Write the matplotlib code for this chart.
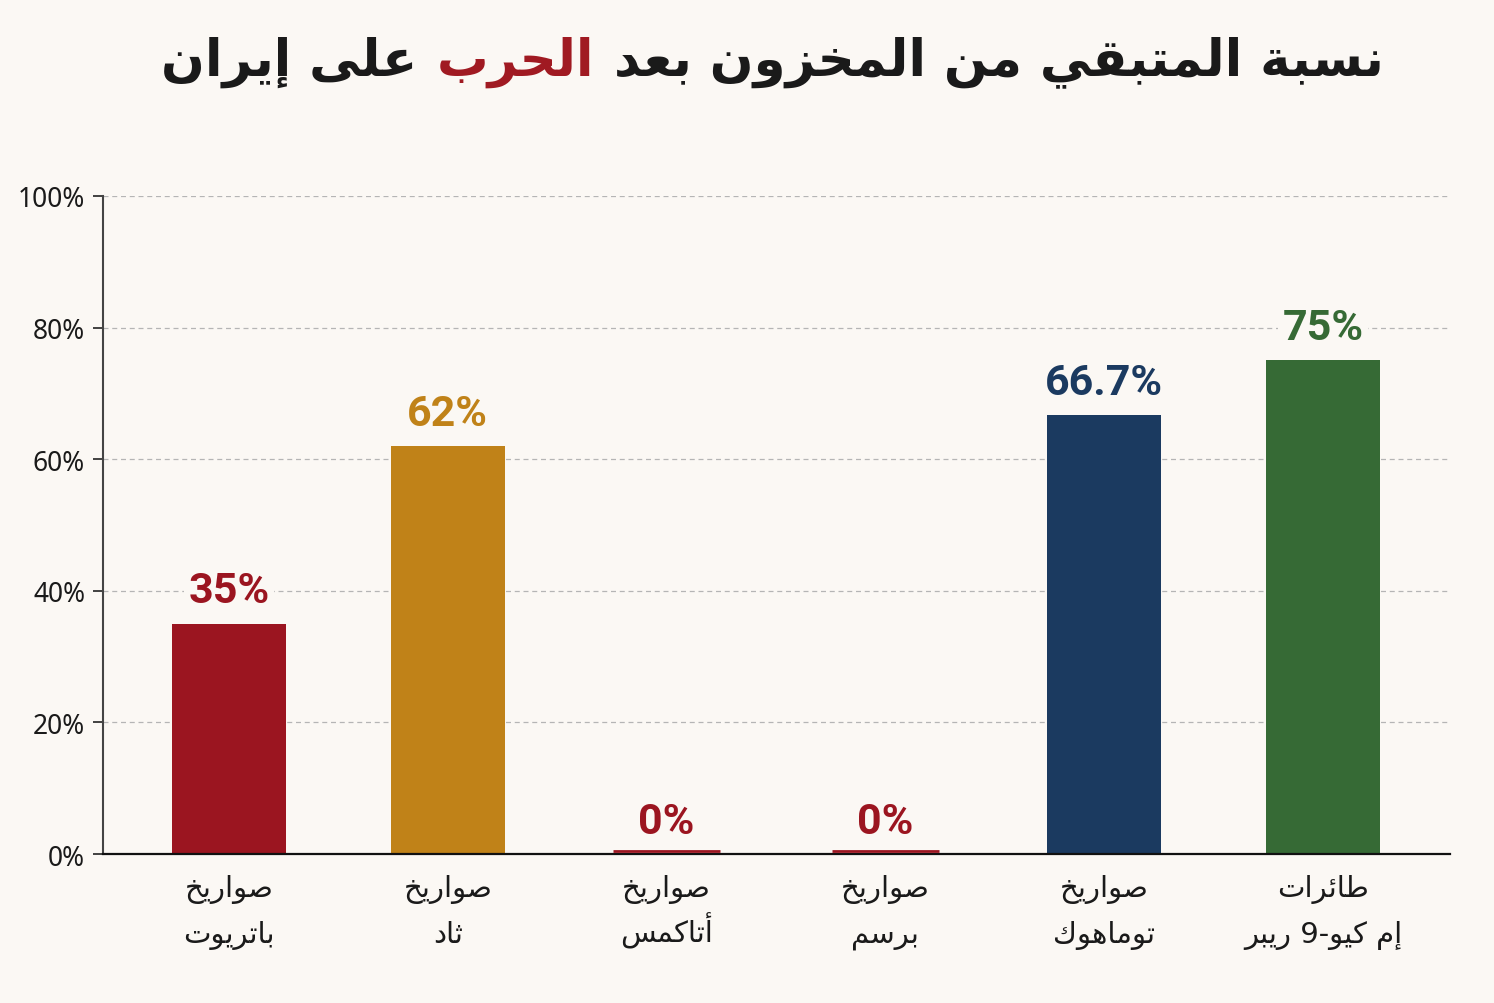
#!/usr/bin/env python3
# -*- coding: utf-8 -*-
"""Remaining stock after the war on Iran - bar chart."""

import matplotlib.pyplot as plt
from matplotlib.offsetbox import TextArea, HPacker, AnchoredOffsetbox
from matplotlib.ticker import MultipleLocator, FuncFormatter
from matplotlib.transforms import ScaledTranslation

# %% ============================== Data ======================================
categories = ['صواريخ\nباتريوت', 'صواريخ\nثاد', 'صواريخ\nأتاكمس',
              'صواريخ\nبرسم', 'صواريخ\nتوماهوك', 'طائرات\nإم كيو-9 ريبر']
values = [35, 62, 0, 0, 66.7, 75]
value_labels = ['35%', '62%', '0%', '0%', '66.7%', '75%']
title_parts = ['على إيران', 'الحرب', 'نسبة المتبقي من المخزون بعد']

# %% ============================= Colours ====================================
bg = '#fbf8f4'
dark = '#1a1a1a'
red = '#9b1520'
gold = '#c08218'
navy = '#1b3a60'
green = '#366a35'
bar_colors = [red, gold, red, red, navy, green]
text_colors = [red, gold, red, red, navy, green]

# %% ===================== Minimal Arabic shaping =============================
# matplotlib has no complex text layout, so pick presentation forms by hand
# and reverse to visual order.
ARABIC_FORMS = {
    'ا': (0xFE8D, False), 'أ': (0xFE83, False), 'إ': (0xFE87, False),
    'آ': (0xFE81, False), 'ب': (0xFE8F, True), 'ة': (0xFE93, False),
    'ت': (0xFE95, True), 'ث': (0xFE99, True), 'ج': (0xFE9D, True),
    'ح': (0xFEA1, True), 'خ': (0xFEA5, True), 'د': (0xFEA9, False),
    'ذ': (0xFEAB, False), 'ر': (0xFEAD, False), 'ز': (0xFEAF, False),
    'س': (0xFEB1, True), 'ش': (0xFEB5, True), 'ص': (0xFEB9, True),
    'ض': (0xFEBD, True), 'ط': (0xFEC1, True), 'ظ': (0xFEC5, True),
    'ع': (0xFEC9, True), 'غ': (0xFECD, True), 'ف': (0xFED1, True),
    'ق': (0xFED5, True), 'ك': (0xFED9, True), 'ل': (0xFEDD, True),
    'م': (0xFEE1, True), 'ن': (0xFEE5, True), 'ه': (0xFEE9, True),
    'و': (0xFEED, False), 'ى': (0xFEEF, False), 'ي': (0xFEF1, True),
    'ئ': (0xFE89, True),
}
LAM_ALEF = {'ا': 0xFEFB, 'أ': 0xFEF7, 'إ': 0xFEF9, 'آ': 0xFEF5}


def _joins_next(c):
    return c in ARABIC_FORMS and ARABIC_FORMS[c][1]


def shape_line(text):
    out = []
    i = 0
    n = len(text)
    while i < n:
        c = text[i]
        if c not in ARABIC_FORMS:
            out.append(c)
            i += 1
            continue
        p = i > 0 and _joins_next(text[i - 1])
        if c == 'ل' and i + 1 < n and text[i + 1] in LAM_ALEF:
            out.append(chr(LAM_ALEF[text[i + 1]] + (1 if p else 0)))
            i += 2
            continue
        nxt = text[i + 1] if i + 1 < n else ''
        base, dual = ARABIC_FORMS[c]
        q = dual and nxt in ARABIC_FORMS
        form = 3 if (p and q) else 1 if p else 2 if q else 0
        out.append(chr(base + form))
        i += 1
    return ''.join(reversed(out))


# %% ============================ Figure ======================================
plt.rcParams['font.family'] = ['DejaVu Sans']
fig = plt.figure(figsize=(14.94, 10.04), dpi=100, facecolor=bg)
ax = fig.add_axes([0.069, 0.1484, 0.9015, 0.6554])
ax.set_facecolor(bg)

x = list(range(len(categories)))
width = 0.52
ax.bar(x, values, width=width, color=bar_colors, zorder=3)

# thin line so that empty (0%) bars still show, just above the axis line
zero = [(xi, c) for xi, v, c in zip(x, values, bar_colors) if v == 0]
lift = ax.transData + ScaledTranslation(0, 2.5 / 72, fig.dpi_scale_trans)
ax.hlines([0] * len(zero), [xi - 0.245 for xi, _ in zero],
          [xi + 0.245 for xi, _ in zero], colors=[c for _, c in zero],
          linewidth=2.0, zorder=4, transform=lift, clip_on=False)

for xi, v, lab, c in zip(x, values, value_labels, text_colors):
    ax.annotate(lab, (xi, v), xytext=(0, 9), textcoords='offset points',
                ha='center', va='bottom', fontsize=31, fontweight='bold',
                family='Roboto', color=c, zorder=4,
                bbox=dict(boxstyle='square,pad=0.1', fc=bg, ec='none'))

# category labels, two lines with fixed baselines
xtrans = ax.get_xaxis_transform()
for xi, cat in zip(x, categories):
    for k, line in enumerate(cat.split('\n')):
        ax.annotate(shape_line(line), (xi, 0), xycoords=xtrans,
                    xytext=(0, -30 - 33 * k), textcoords='offset points',
                    ha='center', va='baseline', fontsize=21, color=dark,
                    annotation_clip=False)

# %% =========================== Axis =========================================
ax.set_xlim(-0.575, 5.58)
ax.set_ylim(0, 100)
ax.yaxis.set_major_locator(MultipleLocator(20))
ax.yaxis.set_major_formatter(FuncFormatter(lambda v, _: '{:.0f}%'.format(v)))
ax.grid(axis='y', linestyle=(0, (4, 3)), color='#b5b5b5', linewidth=0.9,
        zorder=0)
ax.set_axisbelow(True)

ax.set_xticks([])
ax.tick_params(axis='y', length=7, width=1.3, color='#333333', pad=6,
               labelsize=19, labelcolor=dark)
for t in ax.get_yticklabels():
    t.set_family('Noto Sans')

for s in ['top', 'right']:
    ax.spines[s].set_visible(False)
ax.spines['left'].set_color('#444444')
ax.spines['left'].set_linewidth(1.5)
ax.spines['bottom'].set_color('#111111')
ax.spines['bottom'].set_linewidth(1.6)
ax.spines['bottom'].set_zorder(3.5)

# %% ============================ Title =======================================
title_colors = [dark, '#a01a22', dark]
boxes = [TextArea(shape_line(t), textprops=dict(fontsize=37, fontweight='bold',
                                                color=c, family='DejaVu Sans'))
         for t, c in zip(title_parts, title_colors)]
pack = HPacker(children=boxes, sep=14, pad=0, align='baseline')
anchored = AnchoredOffsetbox(loc='center', child=pack, frameon=False, pad=0,
                             borderpad=0, bbox_to_anchor=(0.517, 0.938),
                             bbox_transform=fig.transFigure)
fig.add_artist(anchored)

fig.savefig('out.png', dpi=100, facecolor=bg)
